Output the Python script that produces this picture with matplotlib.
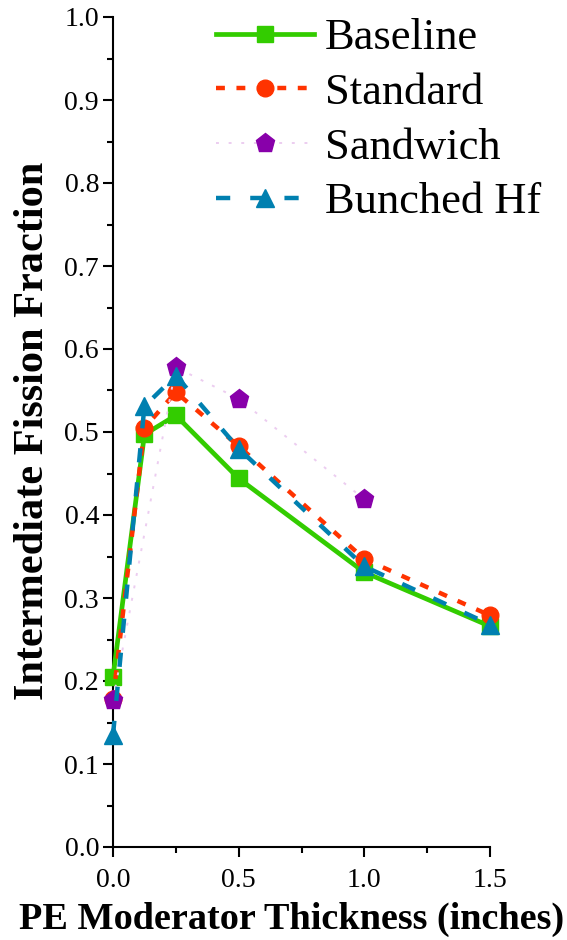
import matplotlib
matplotlib.use("Agg")
import matplotlib.pyplot as plt
from matplotlib.ticker import MultipleLocator, FormatStrFormatter

plt.rcParams['font.family'] = ['Liberation Serif', 'DejaVu Serif']

thickness = [0.0, 0.125, 0.25, 0.5, 1.0, 1.5]
baseline = [0.205, 0.497, 0.520, 0.444, 0.331, 0.266]
standard = [0.178, 0.505, 0.548, 0.483, 0.347, 0.279]
sandwich_x = [0.0, 0.25, 0.5, 1.0]
sandwich = [0.177, 0.578, 0.540, 0.419]
bunched = [0.135, 0.531, 0.568, 0.480, 0.338, 0.268]

W, H = 567, 940
fig = plt.figure(figsize=(W / 100, H / 100), dpi=100)
ax = fig.add_axes([113 / W, 1 - 847 / H, (490 - 113) / W, (847 - 17) / H])

ax.plot(thickness, baseline, color='#33cc00', lw=3.4, ls='-', marker='s', ms=11,
        label='Baseline', zorder=3)
ax.plot(thickness, standard, color='#ff3300', lw=3.2, ls=(0, (2.0, 2.6)), marker='o', ms=12,
        label='Standard', zorder=4)
ax.plot(sandwich_x, sandwich, color='#eccdf0', lw=1.4, ls=(0, (1.5, 5)), marker='p', ms=14,
        mfc='#8800aa', mec='#8800aa', label='Sandwich', zorder=5)
ax.plot(thickness, bunched, color='#0080b0', lw=3.2, ls=(0, (3.2, 4.5)), marker='^', ms=13,
        label='Bunched Hf', zorder=6)

ax.set_xlim(0.0, 1.5)
ax.set_ylim(0.0, 1.0)
ax.xaxis.set_major_locator(MultipleLocator(0.5))
ax.xaxis.set_minor_locator(MultipleLocator(0.25))
ax.yaxis.set_major_locator(MultipleLocator(0.1))
ax.yaxis.set_minor_locator(MultipleLocator(0.05))
ax.xaxis.set_major_formatter(FormatStrFormatter('%.1f'))
ax.yaxis.set_major_formatter(FormatStrFormatter('%.1f'))

for s in ('top', 'right'):
    ax.spines[s].set_visible(False)
for s in ('left', 'bottom'):
    ax.spines[s].set_linewidth(1.5)
ax.tick_params(which='major', direction='out', length=7, width=1.5, labelsize=20)
ax.tick_params(axis='x', which='major', pad=8)
ax.tick_params(axis='y', which='major', pad=3)
ax.tick_params(which='minor', direction='out', length=4, width=1.5)
for ln in ax.lines:
    ln.set_clip_on(False)

ax.set_xlabel('PE Moderator Thickness (inches)', fontsize=27.5, fontweight='bold')
ax.set_ylabel('Intermediate Fission Fraction', fontsize=30.5, fontweight='bold')
ax.xaxis.set_label_coords(292 / W, 1 - 902 / H, transform=fig.transFigure)
ax.yaxis.set_label_coords(52 / W, 1 - 431 / H, transform=fig.transFigure)

leg = ax.legend(loc='upper left', bbox_to_anchor=(216 / W, 1 - 18 / H),
                bbox_transform=fig.transFigure, fontsize=32, frameon=False,
                handlelength=2.2, handletextpad=0.25, labelspacing=0.33,
                borderpad=0, borderaxespad=0)

fig.savefig('out.png', dpi=100)
